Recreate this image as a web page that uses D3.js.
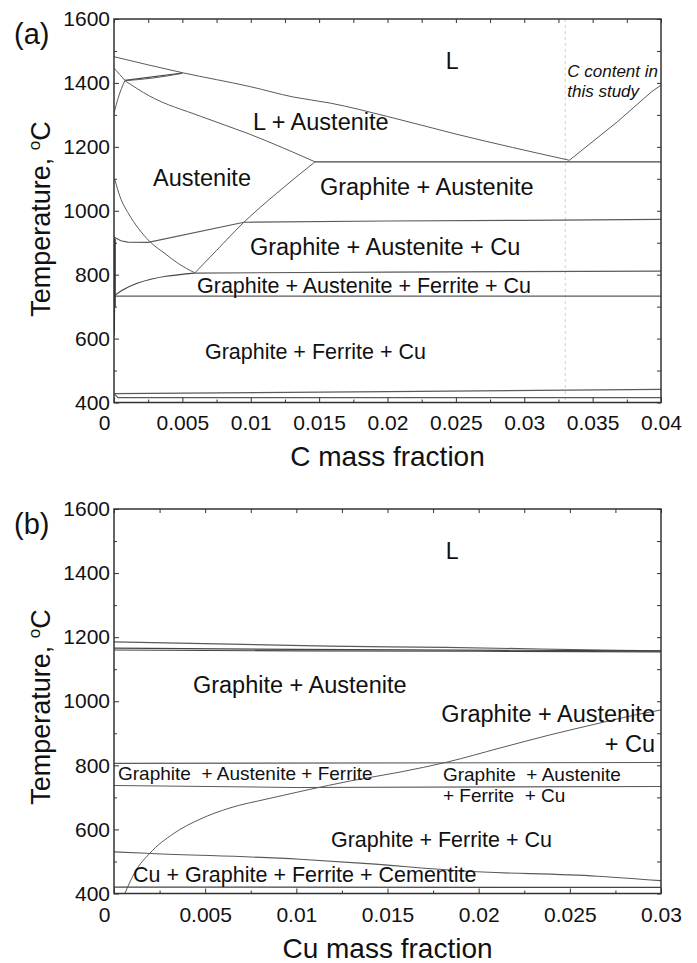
<!DOCTYPE html>
<html><head><meta charset="utf-8">
<script src="https://cdn.jsdelivr.net/npm/d3@7"></script>
<style>
body{margin:0;background:#fff}
svg{display:block}
text{font-family:"Liberation Sans",Arial,Helvetica,sans-serif;fill:#111}
</style>
</head><body><svg id="c" width="697" height="963"></svg>
<script>
// ---------------- DATA ----------------
const yTicks = [400, 600, 800, 1000, 1200, 1400, 1600];
const yMinorTicks = [500, 700, 900, 1100, 1300, 1500];

const aXTicks = [0, 0.005, 0.01, 0.015, 0.02, 0.025, 0.03, 0.035, 0.04];
const aXTickLabels = ["0", "0.005", "0.01", "0.015", "0.02", "0.025", "0.03", "0.035", "0.04"];
const bXTicks = [0, 0.005, 0.01, 0.015, 0.02, 0.025, 0.03];
const bXTickLabels = ["0", "0.005", "0.01", "0.015", "0.02", "0.025", "0.03"];

// Panel (a): x = C mass fraction, y = temperature (°C)
const aLiquidus = [[0,1482],[0.005,1432],[0.01,1388],[0.0131,1356],[0.0158,1337],[0.02,1295],[0.025,1240],[0.0333,1158]];
const aGraphiteLiquidus = [[0.0333,1158],[0.0368,1278],[0.0393,1372],[0.04,1393]];
const aEutectic = [[0.0147,1153],[0.04,1153]];
const aSolidus = [[0.0008,1407],[0.0026,1359],[0.0063,1296],[0.0099,1240],[0.0124,1196],[0.0147,1153]];
const aPeritectic1 = [[0.0008,1408],[0.005,1431]];
const aPeritectic2 = [[0.0008,1407],[0.0028,1415],[0.005,1430]];
const aDeltaUpper = [[0,1446],[0.0004,1427],[0.0008,1408]];
const aDeltaLower = [[0,1305],[0.0003,1352],[0.0008,1408]];
const aAcm = [[0.0059,805],[0.0075,876],[0.0095,964],[0.0119,1055],[0.0147,1153]];
const aCuSolvus = [[0,918],[0.0005,906],[0.001,902],[0.0025,901],[0.0095,964],[0.02,968],[0.03,970],[0.04,973]];
const aA3 = [[0.00007,1096],[0.00044,1044],[0.00105,992],[0.00178,945],[0.00263,903],[0.00373,866],[0.0047,835],[0.0059,806]];
const aA1Curve = [[0,733],[0.0006,751],[0.0017,773],[0.0059,805]];
const aA1Upper = [[0.0059,805],[0.02,808],[0.04,811]];
const aA1Lower = [[0,733],[0.04,733]];
const aFerriteEdge1 = [[0.00004,912],[0.00004,700]];
const aFerriteEdge2 = [[0.00004,700],[0.00002,610]];
const aLowUpper = [[0,428],[0.02,434],[0.04,441]];
const aLowLower = [[0,428],[0.0003,415],[0.04,415]];
const aStudyC = 0.033;

// Panel (b): x = Cu mass fraction
const bLine1185 = [[0,1185],[0.0118,1172],[0.0182,1168],[0.0276,1159],[0.03,1157]];
const bLine1165 = [[0,1166],[0.01,1162],[0.03,1157]];
const bLine1160 = [[0,1160],[0.01,1157],[0.02,1156],[0.03,1154]];
const bLine808 = [[0,806],[0.03,809]];
const bLine735 = [[0,737],[0.01,731],[0.03,734]];
const bCuSolvus = [[0.0006,401],[0.00115,467],[0.00197,526],[0.00324,586],[0.00472,632],[0.00636,667],[0.00839,695],[0.01058,723],[0.01294,751],[0.01569,779],[0.01826,810],[0.02117,854],[0.02391,895],[0.02665,932],[0.02857,957],[0.03,973]];
const bCementite = [[0,530],[0.002,525],[0.0102,507],[0.0137,494],[0.0191,470],[0.0265,454],[0.03,440]];
const bLine420 = [[0,420],[0.03,419]];

// Phase-region labels: text, x (mass fraction), T (°C)
const aLabels = [
  ["L", 0.02472, 1443, "m"],
  ["L + Austenite", 0.01016, 1253, "s"],
  ["Austenite", 0.00285, 1078, "s"],
  ["Graphite + Austenite", 0.01506, 1049, "s"],
  ["Graphite + Austenite + Cu", 0.00994, 862, "s"],
  ["Graphite + Austenite + Ferrite + Cu", 0.00607, 743, "s2"],
  ["Graphite + Ferrite + Cu", 0.00665, 536, "s2"]
];
const aNote = ["C content in", "this study"];
const bLabels = [
  ["L", 0.01854, 1444, "m"],
  ["Graphite + Austenite", 0.00433, 1026, "s"],
  ["Graphite + Austenite", 0.02967, 935, "e"],
  ["+ Cu", 0.02967, 842, "e"],
  ["Graphite\u00a0 + Austenite + Ferrite", 0.00022, 754, "s3"],
  ["Graphite\u00a0 + Austenite", 0.01804, 751, "s3"],
  ["+ Ferrite\u00a0 + Cu", 0.01804, 686, "s3"],
  ["Graphite + Ferrite + Cu", 0.0119, 545, "s2"],
  ["Cu + Graphite + Ferrite + Cementite", 0.00104, 436, "s2"]
];

// ---------------- DRAW ----------------
const svg = d3.select("#c");
const LEFT = 114, RIGHT = 661;
const lineColor = "#5a5a5a";

function panel(opt) {
  const g = svg.append("g");
  const x = d3.scaleLinear().domain([0, opt.xMax]).range([LEFT, RIGHT]);
  const y = d3.scaleLinear().domain([400, 1600]).range([opt.bottom, opt.top]);
  const clipId = "clip" + opt.id;
  g.append("clipPath").attr("id", clipId).append("rect")
    .attr("x", LEFT).attr("y", opt.top).attr("width", RIGHT - LEFT).attr("height", opt.bottom - opt.top);
  const plot = g.append("g").attr("clip-path", `url(#${clipId})`);

  if (opt.study != null) {
    plot.append("line").attr("x1", x(opt.study)).attr("x2", x(opt.study))
      .attr("y1", opt.top).attr("y2", opt.bottom)
      .attr("stroke", "#c4c4c4").attr("stroke-width", 0.8).attr("stroke-dasharray", "3,3");
  }

  const straight = d3.line().x(d => x(d[0])).y(d => y(d[1]));
  const smooth = d3.line().x(d => x(d[0])).y(d => y(d[1])).curve(d3.curveMonotoneX);
  opt.lines.forEach(l => {
    plot.append("path").attr("d", (l.s ? smooth : straight)(l.d)).attr("fill", "none")
      .attr("stroke", l.c || lineColor).attr("stroke-width", l.w || 1);
  });

  const sizes = {m: 23, s: 23.5, e: 23.5, s2: 21.5, s3: 19};
  opt.labels.forEach(([t, lx, ly, k]) => {
    plot.append("text").attr("x", x(lx)).attr("y", y(ly))
      .attr("text-anchor", k === "m" ? "middle" : (k === "e" ? "end" : "start"))
      .attr("font-size", sizes[k]).style("white-space", "pre").text(t);
  });
  if (opt.note) {
    opt.note.forEach((t, i) => {
      plot.append("text").attr("x", x(opt.study) + 2).attr("y", y(i === 0 ? 1418 : 1356))
        .attr("font-size", 17).attr("font-style", "italic").text(t);
    });
  }

  // axes (ticks inward)
  const minorX = d3.range(0, opt.xMax + 1e-9, 0.0025).filter(v => Math.abs(v / 0.005 - Math.round(v / 0.005)) > 1e-6);
  const axCol = "#333";
  function styleAxis(sel) {
    sel.select(".domain").remove();
    sel.selectAll("line").attr("stroke", axCol).attr("stroke-width", 1);
    sel.selectAll("text").attr("font-size", 21).attr("fill", "#111")
      .style("font-family", '"Liberation Sans",Arial,sans-serif');
  }
  const xb = g.append("g").attr("transform", `translate(0,${opt.bottom})`)
    .call(d3.axisBottom(x).tickValues(opt.xTicks).tickFormat((d, i) => opt.xLabels[i]).tickSize(-5).tickPadding(opt.xPad));
  styleAxis(xb);
  xb.selectAll(".tick text").filter((d, i) => i === 0).attr("dx", -10);
  styleAxis(g.append("g").attr("transform", `translate(0,${opt.bottom})`)
    .call(d3.axisBottom(x).tickValues(minorX).tickFormat("").tickSize(-3)));
  styleAxis(g.append("g").attr("transform", `translate(0,${opt.top})`)
    .call(d3.axisTop(x).tickValues(opt.xTicks.concat(minorX)).tickFormat("").tickSize(-4)));

  styleAxis(g.append("g").attr("transform", `translate(${LEFT},0)`)
    .call(d3.axisLeft(y).tickValues(yTicks).tickFormat(d3.format("d")).tickSize(-5).tickPadding(4)));
  styleAxis(g.append("g").attr("transform", `translate(${LEFT},0)`)
    .call(d3.axisLeft(y).tickValues(yMinorTicks).tickFormat("").tickSize(-3)));
  styleAxis(g.append("g").attr("transform", `translate(${RIGHT},0)`)
    .call(d3.axisRight(y).tickValues(yTicks.concat(yMinorTicks)).tickFormat("").tickSize(-4)));

  g.append("rect").attr("x", LEFT).attr("y", opt.top).attr("width", RIGHT - LEFT).attr("height", opt.bottom - opt.top)
    .attr("fill", "none").attr("stroke", axCol).attr("stroke-width", 1.5);

  // titles
  g.append("text").attr("x", (LEFT + RIGHT) / 2).attr("y", opt.xTitleY).attr("text-anchor", "middle")
    .attr("font-size", 28).text(opt.xTitle);
  const yt = g.append("text").attr("transform", `translate(50,${opt.yTitleMid}) rotate(-90)`)
    .attr("text-anchor", "middle").attr("font-size", 27);
  yt.append("tspan").text("Temperature, ");
  yt.append("tspan").attr("font-size", 17).attr("dy", -10).text("o");
  yt.append("tspan").attr("dy", 10).text("C");
  g.append("text").attr("x", 14).attr("y", opt.top + 25).attr("font-size", 29).text(opt.tag);
}

panel({
  id: "a", top: 19, bottom: 402.5, xMax: 0.04, xTicks: aXTicks, xLabels: aXTickLabels, xPad: 13,
  xTitle: "C mass fraction", xTitleY: 466, yTitleMid: 219, tag: "(a)", study: aStudyC, note: aNote,
  lines: [
    {d: aLiquidus, s: 1}, {d: aGraphiteLiquidus}, {d: aEutectic, w: 1.4, c: "#444"}, {d: aSolidus, s: 1},
    {d: aPeritectic1, w: 1.2, c: "#444"}, {d: aPeritectic2, s: 1}, {d: aDeltaUpper, s: 1}, {d: aDeltaLower, s: 1},
    {d: aAcm, s: 1}, {d: aCuSolvus, w: 1.2}, {d: aA3, s: 1}, {d: aA1Curve, s: 1, w: 1.2, c: "#444"}, {d: aA1Upper, w: 1.2},
    {d: aA1Lower, w: 1.2}, {d: aFerriteEdge1, w: 2.5, c: "#333"}, {d: aFerriteEdge2, w: 1.2, c: "#333"},
    {d: aLowUpper, w: 1.2}, {d: aLowLower, w: 1.2}
  ],
  labels: aLabels
});

panel({
  id: "b", top: 509, bottom: 893.5, xMax: 0.03, xTicks: bXTicks, xLabels: bXTickLabels, xPad: 13.5,
  xTitle: "Cu mass fraction", xTitleY: 958, yTitleMid: 707, tag: "(b)", study: null,
  lines: [
    {d: bLine1185, s: 1, w: 1.2}, {d: bLine1165, w: 1.2, c: "#444"}, {d: bLine1160, w: 1.2, c: "#444"},
    {d: bLine808, w: 1.1}, {d: bLine735, w: 1.1}, {d: bCuSolvus, s: 1}, {d: bCementite, s: 1, w: 1.1}, {d: bLine420, w: 1.2, c: "#444"}
  ],
  labels: bLabels
});
</script></body></html>
